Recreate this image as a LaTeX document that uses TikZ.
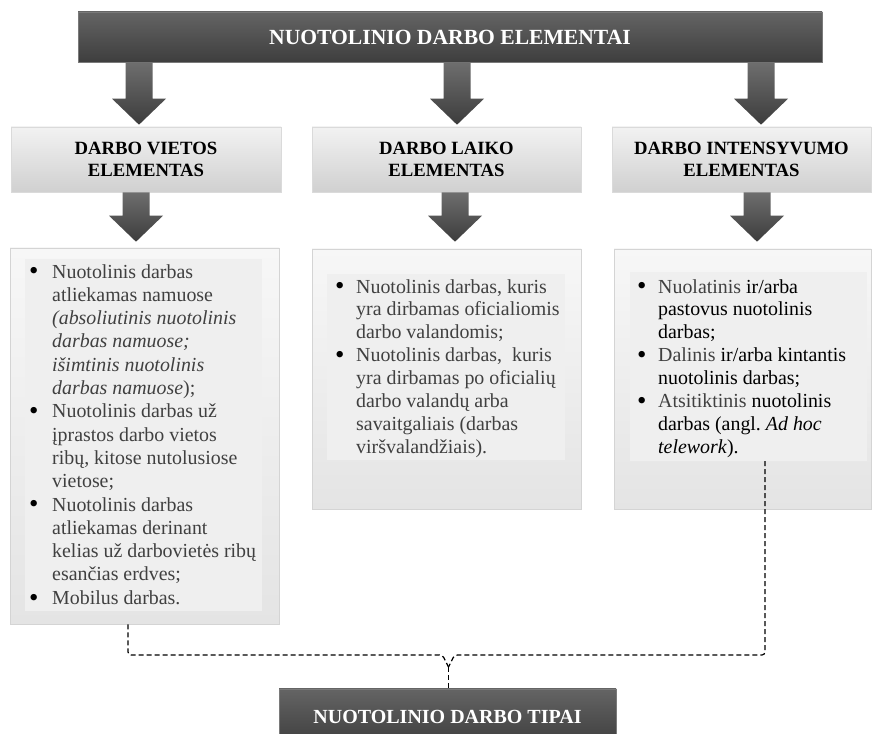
\documentclass[tikz,border=0pt]{standalone}
\usepackage{fontspec}
\setmainfont{Liberation Serif}
\usetikzlibrary{calc}

\definecolor{barTop}{HTML}{646464}
\definecolor{barBot}{HTML}{3E3E3E}
\definecolor{barEdge}{HTML}{7A7A7A}
\definecolor{arrTop}{HTML}{6E6E6E}
\definecolor{arrBot}{HTML}{3C3C3C}
\definecolor{headTop}{HTML}{F2F2F2}
\definecolor{headBot}{HTML}{D0D0D0}
\definecolor{headEdge}{HTML}{DADADA}
\definecolor{listTop}{HTML}{F7F7F7}
\definecolor{listBot}{HTML}{E4E4E4}
\definecolor{listEdge}{HTML}{D4D4D4}
\definecolor{padFill}{HTML}{EFEFEF}
\definecolor{bodyGray}{HTML}{404040}

% a slightly enlarged bullet
\newcommand\bigbullet{\raisebox{-0.2ex}{\scalebox{1.35}{\textcolor{black}{\textbullet}}}}

% bullet item with hanging indent; #1 = bullet column width
\newcommand\bitem[2]{\par\hangindent=#1\hangafter=1\noindent\makebox[#1][l]{\bigbullet}#2\par}

% shaded block arrow from #1 (top of shaft) to #2 (tip)
\newcommand\blockarr[2]{\shade[blockarrow] let \p1=#1, \p2=#2 in
  (\x1-13.5pt,\y1) -- (\x1+13.5pt,\y1) -- (\x1+13.5pt,\y2+26pt) -- (\x1+27pt,\y2+26pt)
  -- (\x1,\y2) -- (\x1-27pt,\y2+26pt) -- (\x1-13.5pt,\y2+26pt) -- cycle;}

\tikzset{
  titlebar/.style={draw=barEdge, line width=0.6pt, top color=barTop, bottom color=barBot,
    text=white, font=\fontsize{21.6}{24}\selectfont\bfseries, inner sep=0pt},
  headbox/.style={draw=headEdge, line width=0.6pt, top color=headTop, bottom color=headBot,
    text=black, font=\fontsize{18.7}{21.7}\selectfont\bfseries, align=center, inner sep=0pt,
    minimum height=65pt},
  listbox/.style={draw=listEdge, line width=0.6pt, top color=listTop, bottom color=listBot, inner sep=0pt},
  listpad/.style={fill=padFill, inner sep=0pt},
  listtext/.style={anchor=north west, inner sep=0pt, text=bodyGray,
    font=\fontsize{19.9}{23.3}\selectfont\frenchspacing},
  blockarrow/.style={top color=arrTop, bottom color=arrBot},
  typelink/.style={draw=black, line width=1.2pt, dash pattern=on 5pt off 3pt, rounded corners=3pt},
}

\begin{document}
\begin{tikzpicture}[x=1pt,y=1pt]
\useasboundingbox[fill=white] (0,0) rectangle (872,733);

% title bar
\node[titlebar, minimum width=744pt, minimum height=50pt] (top) at (450,696) {NUOTOLINIO DARBO ELEMENTAI};

% element headings
\node[headbox, minimum width=270pt] (lhead) at (146,573.5) {DARBO VIETOS\\ELEMENTAS};
\node[headbox, minimum width=269pt] (mhead) at (446.5,573.5) {DARBO LAIKO\\ELEMENTAS};
\node[headbox, minimum width=259pt] (rhead) at (741.5,573.5) {DARBO INTENSYVUMO\\ELEMENTAS};

% list panels
\node[listbox, minimum width=269pt, minimum height=376pt] (lbox) at (144.5,297) {};
\node[listpad, minimum width=237pt, minimum height=352pt] (lpad) at (143.5,298) {};
\node[listbox, minimum width=269pt, minimum height=260pt] (mbox) at (446.5,354) {};
\node[listpad, minimum width=238pt, minimum height=186pt] (mpad) at (446,366) {};
\node[listbox, minimum width=257pt, minimum height=260pt] (rbox) at (742.5,354) {};
\node[listpad, minimum width=237pt, minimum height=189pt] (rpad) at (748.5,366.5) {};

% arrow axes
\coordinate (a1) at (139,0);
\coordinate (a2) at (457,0);
\coordinate (a3) at (761,0);
\coordinate (b1) at (136,0);
\coordinate (b2) at (455,0);
\coordinate (b3) at (757,0);

\blockarr{(top.south -| a1)}{([yshift=2pt]lhead.north -| a1)}
\blockarr{(top.south -| a2)}{([yshift=2pt]mhead.north -| a2)}
\blockarr{(top.south -| a3)}{([yshift=2pt]rhead.north -| a3)}
\blockarr{(lhead.south -| b1)}{([yshift=6pt]lbox.north -| b1)}
\blockarr{(mhead.south -| b2)}{([yshift=7pt]mbox.north -| b2)}
\blockarr{(rhead.south -| b3)}{([yshift=7pt]rbox.north -| b3)}

% list texts
\node[listtext] (ltext) at (29,469) {\begin{minipage}[t]{240pt}\raggedright
\bitem{23pt}{Nuotolinis darbas\newline atliekamas namuose\newline
  \textit{(absoliutinis nuotolinis\newline darbas namuose;\newline
  išimtinis nuotolinis\newline darbas namuose});}
\bitem{23pt}{Nuotolinis darbas už\newline įprastos darbo vietos\newline
  ribų, kitose nutolusiose\newline vietose;}
\bitem{23pt}{Nuotolinis darbas\newline atliekamas derinant\newline
  kelias už darbovietės ribų\newline esančias erdves;}
\bitem{23pt}{Mobilus darbas.}
\end{minipage}};

\node[listtext, font=\fontsize{19.9}{22.9}\selectfont\frenchspacing] (mtext) at (335,454) {\begin{minipage}[t]{240pt}\raggedright
\bitem{21pt}{Nuotolinis darbas, kuris\newline yra dirbamas oficialiomis\newline
  darbo valandomis;}
\bitem{21pt}{Nuotolinis darbas,\ \ kuris\newline yra dirbamas po oficialių\newline
  darbo valandų arba\newline savaitgaliais (darbas\newline viršvalandžiais).}
\end{minipage}};

\node[listtext, font=\fontsize{19.9}{22.9}\selectfont\frenchspacing] (rtext) at (637,454) {\begin{minipage}[t]{240pt}\raggedright
\bitem{21pt}{Nuolatinis \textcolor{black}{ir/arba\newline pastovus nuotolinis\newline darbas;}}
\bitem{21pt}{Dalinis \textcolor{black}{ir/arba kintantis\newline nuotolinis darbas;}}
\bitem{21pt}{Atsitiktinis \textcolor{black}{nuotolinis\newline darbas (angl. \textit{Ad hoc}\newline
  \textit{telework}).}}
\end{minipage}};

% types box
\node[titlebar, font=\fontsize{20}{23}\selectfont\bfseries, minimum width=337pt, minimum height=56pt]
  (tipai) at (447.5,16) {NUOTOLINIO DARBO TIPAI};

% dashed links merging above the types box
\coordinate (jn) at (448.5,66);
\draw[typelink] ([xshift=-16.5pt]lbox.south) |- ($(jn)+(-6,12)$) -- (jn);
\draw[typelink] ([xshift=16.5pt]rpad.south) |- ($(jn)+(6,12)$) -- (jn);
\draw[typelink] (jn) -- (jn |- tipai.north);
\end{tikzpicture}
\end{document}
